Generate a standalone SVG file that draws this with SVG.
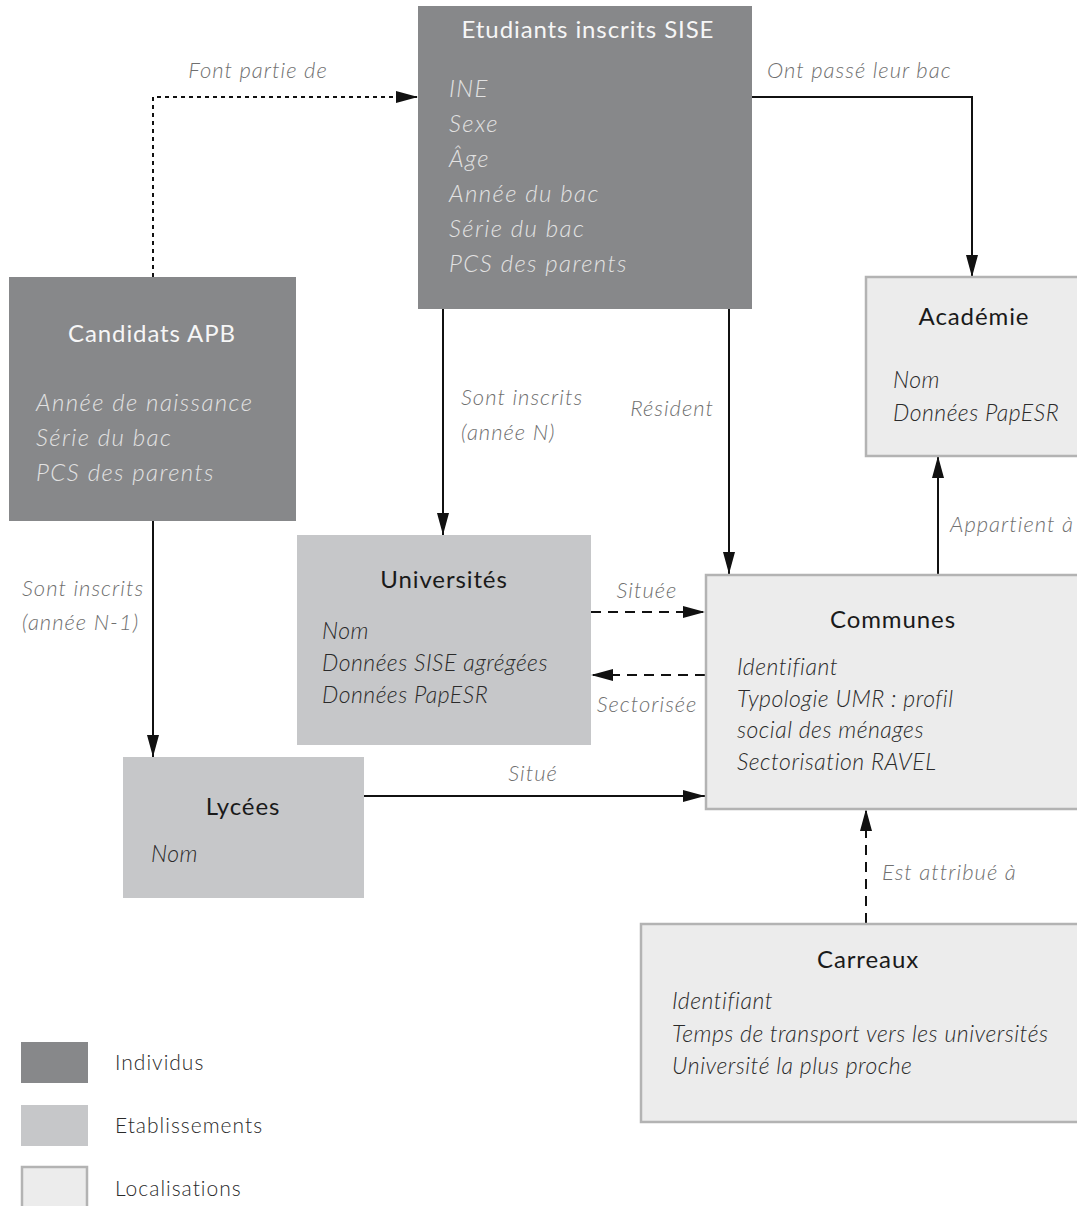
<svg xmlns="http://www.w3.org/2000/svg" width="1077" height="1206" viewBox="0 0 1077 1206">
<style>
text{font-family:Lato,"Open Sans","Liberation Sans",sans-serif;font-weight:300;}
.ind{fill:#87888a;}
.eta{fill:#c6c7c9;}
.loc{fill:#ececec;stroke:#b3b3b3;stroke-width:2.5;}
.tw{fill:#f6f6f6;font-size:24px;font-weight:400;letter-spacing:0.9px;text-anchor:middle;}
.iw{fill:#e2e2e2;font-size:24px;letter-spacing:1.4px;font-style:italic;}
.td{fill:#1a1a1a;font-size:24px;font-weight:400;letter-spacing:0.9px;text-anchor:middle;}
.id{fill:#2a2a2a;font-size:23px;letter-spacing:0.5px;font-style:italic;}
.lab{fill:#707070;font-size:22px;letter-spacing:1px;font-style:italic;}
.leg{fill:#2a2a2a;font-size:21px;letter-spacing:1px;}
.c{stroke:#111;stroke-width:2;fill:none;}
.dot{stroke-dasharray:4 4;}
.dash{stroke-dasharray:10 7;}
</style>
<defs>
<marker id="ah" viewBox="0 0 22 12" refX="22" refY="6" markerWidth="22" markerHeight="12" markerUnits="userSpaceOnUse" orient="auto">
<path d="M0,0 L22,6 L0,12 z" fill="#111"/>
</marker>
</defs>
<rect width="1077" height="1206" fill="#fff"/>

<g id="connectors">
<path class="c dot" d="M153,277 V97 H418" marker-end="url(#ah)"/>
<path class="c" d="M752,97 H972 V277" marker-end="url(#ah)"/>
<path class="c" d="M443,309 V535" marker-end="url(#ah)"/>
<path class="c" d="M729,309 V574" marker-end="url(#ah)"/>
<path class="c" d="M938,574 V456" marker-end="url(#ah)"/>
<path class="c dash" d="M591,612 H705" marker-end="url(#ah)"/>
<path class="c dash" d="M705,675 H591" marker-end="url(#ah)"/>
<path class="c" d="M153,521 V757" marker-end="url(#ah)"/>
<path class="c" d="M364,796 H705" marker-end="url(#ah)"/>
<path class="c dash" d="M866,923 V809" marker-end="url(#ah)"/>
<text class="lab" x="258" y="78" text-anchor="middle">Font partie de</text>
<text class="lab" x="767" y="78">Ont passé leur bac</text>
<text class="lab" x="461" y="405">Sont inscrits</text>
<text class="lab" x="461" y="440">(année N)</text>
<text class="lab" x="714" y="416" text-anchor="end">Résident</text>
<text class="lab" x="950" y="532">Appartient à</text>
<text class="lab" x="647" y="598" text-anchor="middle">Située</text>
<text class="lab" x="647" y="712" text-anchor="middle">Sectorisée</text>
<text class="lab" x="22" y="596">Sont inscrits</text>
<text class="lab" x="22" y="630">(année N-1)</text>
<text class="lab" x="533" y="781" text-anchor="middle">Situé</text>
<text class="lab" x="882" y="880">Est attribué à</text>
</g>

<g id="etudiants">
<rect class="ind" x="418" y="6" width="334" height="303"/>
<text class="tw" x="588" y="38">Etudiants inscrits SISE</text>
<text class="iw" x="449" y="97">INE</text>
<text class="iw" x="449" y="132">Sexe</text>
<text class="iw" x="449" y="167">Âge</text>
<text class="iw" x="449" y="202">Année du bac</text>
<text class="iw" x="449" y="237">Série du bac</text>
<text class="iw" x="449" y="272">PCS des parents</text>
</g>

<g id="candidats">
<rect class="ind" x="9" y="277" width="287" height="244"/>
<text class="tw" x="152" y="342">Candidats APB</text>
<text class="iw" x="36" y="411">Année de naissance</text>
<text class="iw" x="36" y="446">Série du bac</text>
<text class="iw" x="36" y="481">PCS des parents</text>
</g>

<g id="academie">
<rect class="loc" x="866" y="277" width="220" height="179"/>
<text class="td" x="974" y="325">Académie</text>
<text class="id" x="893" y="388">Nom</text>
<text class="id" x="893" y="421">Données PapESR</text>
</g>

<g id="universites">
<rect class="eta" x="297" y="535" width="294" height="210"/>
<text class="td" x="444" y="588">Universités</text>
<text class="id" x="322" y="639">Nom</text>
<text class="id" x="322" y="671">Données SISE agrégées</text>
<text class="id" x="322" y="703">Données PapESR</text>
</g>

<g id="communes">
<rect class="loc" x="706" y="575" width="380" height="234"/>
<text class="td" x="893" y="628">Communes</text>
<text class="id" x="737" y="675">Identifiant</text>
<text class="id" x="737" y="707">Typologie UMR : profil</text>
<text class="id" x="737" y="738">social des ménages</text>
<text class="id" x="737" y="770">Sectorisation RAVEL</text>
</g>

<g id="lycees">
<rect class="eta" x="123" y="757" width="241" height="141"/>
<text class="td" x="243" y="815">Lycées</text>
<text class="id" x="151" y="862">Nom</text>
</g>

<g id="carreaux">
<rect class="loc" x="641" y="924" width="445" height="198"/>
<text class="td" x="868" y="968">Carreaux</text>
<text class="id" x="672" y="1009">Identifiant</text>
<text class="id" x="672" y="1042">Temps de transport vers les universités</text>
<text class="id" x="672" y="1074">Université la plus proche</text>
</g>

<g id="legend">
<rect class="ind" x="21" y="1042" width="67" height="41"/>
<text class="leg" x="115" y="1070">Individus</text>
<rect class="eta" x="21" y="1105" width="67" height="41"/>
<text class="leg" x="115" y="1133">Etablissements</text>
<rect class="loc" x="22" y="1167" width="65" height="50"/>
<text class="leg" x="115" y="1196">Localisations</text>
</g>
</svg>
